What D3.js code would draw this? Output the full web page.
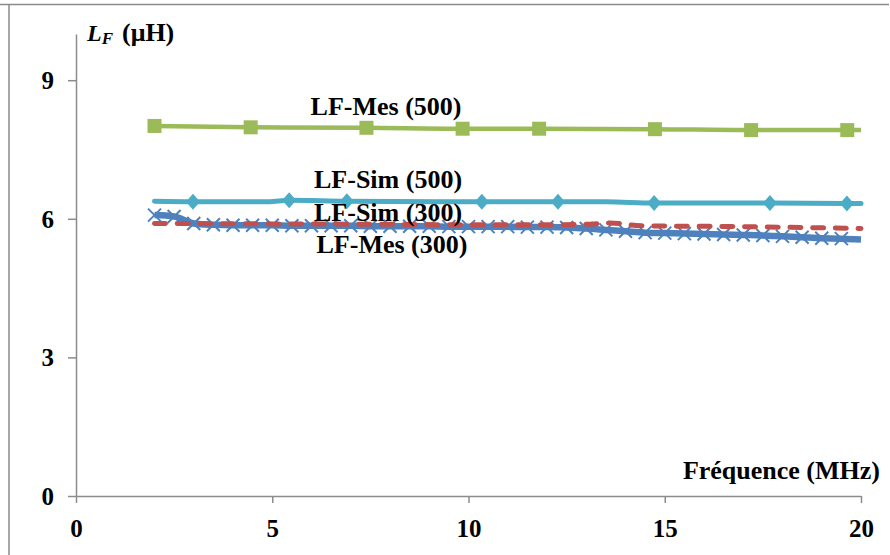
<!DOCTYPE html>
<html>
<head>
<meta charset="utf-8">
<script src="https://cdn.jsdelivr.net/npm/d3@7/dist/d3.min.js"></script>
<style>
  html, body { margin: 0; padding: 0; background: #fff; }
  svg { display: block; }
  text { font-family: "Liberation Serif", "Times New Roman", serif; font-weight: bold; fill: #000; }
</style>
</head>
<body>
<svg id="chart" width="890" height="555"></svg>
<script>
// ---- Data ----
const xTicks = [0, 5, 10, 15, 20];
const yTicks = [0, 3, 6, 9];
const xTitle = "Fréquence (MHz)";

// LF-Mes (500): green, square markers
const mes500LineX = [2, 4.45, 7.4, 9.85, 11.8, 14.75, 17.2, 19.65, 20];
const mes500LineY = [8.01, 7.98, 7.97, 7.95, 7.95, 7.94, 7.92, 7.92, 7.92];
const mes500MarkX = [2, 4.45, 7.4, 9.85, 11.8, 14.75, 17.2, 19.65];
const mes500MarkY = [8.01, 7.98, 7.97, 7.95, 7.95, 7.94, 7.92, 7.92];

// LF-Sim (500): cyan, diamond markers
const sim500LineX = [2, 2.98, 4.9, 5.43, 6.9, 10.34, 12.28, 13.5, 14.73, 17.68, 19.64, 20];
const sim500LineY = [6.38, 6.37, 6.37, 6.40, 6.38, 6.37, 6.37, 6.37, 6.34, 6.34, 6.33, 6.33];
const sim500MarkX = [2.98, 5.43, 6.9, 10.34, 12.28, 14.73, 17.68, 19.64];
const sim500MarkY = [6.37, 6.40, 6.38, 6.37, 6.37, 6.34, 6.34, 6.33];

// LF-Sim (300): red dashed line
const sim300X = [2, 5, 8, 10, 12, 13.0, 13.6, 14.4, 17, 20];
const sim300Y = [5.90, 5.89, 5.88, 5.87, 5.87, 5.88, 5.91, 5.85, 5.83, 5.79];

// LF-Mes (300): blue thick line with X markers
const mes300MarkX = [2, 2.5, 3, 3.5, 4, 4.5, 5, 5.5, 6, 6.5, 7, 7.5, 8, 8.5, 9, 9.5, 10, 10.5,
                     11, 11.5, 12, 12.5, 13, 13.5, 14, 14.5, 15, 15.5, 16, 16.5, 17, 17.5, 18, 18.5, 19, 19.5];
const mes300MarkY = [6.08, 6.05, 5.90, 5.87, 5.86, 5.86, 5.86, 5.85, 5.85, 5.85, 5.85, 5.84, 5.84, 5.84, 5.84, 5.83, 5.83, 5.83,
                     5.83, 5.82, 5.82, 5.81, 5.79, 5.76, 5.73, 5.70, 5.69, 5.68, 5.67, 5.66, 5.65, 5.64, 5.62, 5.60, 5.58, 5.57];
const mes300EndX = [20];
const mes300EndY = [5.55];

const seriesLabels = ["LF-Mes (500)", "LF-Sim (500)", "LF-Sim (300)", "LF-Mes (300)"];
const labelAtX = [7.9, 7.95, 7.95, 8.05];
const labelAtY = [8.25, 6.67, 5.95, 5.26];

// ---- Layout ----
const svg = d3.select("#chart");
const x = d3.scaleLinear().domain([0, 20]).range([76, 861]);
const y = d3.scaleLinear().domain([0, 10]).range([496, 34]);
const axisColor = "#8c8c8c";

// outer frame (top + left)
svg.append("line").attr("x1", 0).attr("x2", 889).attr("y1", 4.5).attr("y2", 4.5)
  .attr("stroke", "#8a8a8a").attr("stroke-width", 1.5);
svg.append("line").attr("x1", 9).attr("x2", 9).attr("y1", 4).attr("y2", 555)
  .attr("stroke", "#8a8a8a").attr("stroke-width", 1.5);

// axes
const xAxis = d3.axisBottom(x).tickValues(xTicks).tickSize(7).tickSizeOuter(0).tickFormat(d3.format("d"));
const gx = svg.append("g").attr("transform", `translate(0,${y(0)})`).call(xAxis);
gx.select(".domain").attr("stroke", axisColor).attr("stroke-width", 1.5);
gx.selectAll(".tick line").attr("stroke", axisColor).attr("stroke-width", 1.5);
gx.selectAll(".tick text").attr("font-size", 25).attr("dy", null).attr("y", 41)
  .style("font-family", "'Liberation Serif', serif").style("font-weight", "bold").attr("fill", "#000");

const yAxis = d3.axisLeft(y).tickValues(yTicks).tickSize(8).tickSizeOuter(0).tickFormat(d3.format("d"));
const gy = svg.append("g").attr("transform", `translate(${x(0)},0)`).call(yAxis);
gy.select(".domain").attr("stroke", axisColor).attr("stroke-width", 1.5);
gy.selectAll(".tick line").attr("stroke", axisColor).attr("stroke-width", 1.5);
gy.selectAll(".tick text").attr("font-size", 25).attr("x", -22).attr("dy", "0.34em")
  .attr("text-anchor", "end")
  .style("font-family", "'Liberation Serif', serif").style("font-weight", "bold").attr("fill", "#000");

// axis titles
const yt = svg.append("text").attr("x", 87).attr("y", 41).attr("font-size", 24);
yt.append("tspan").attr("font-style", "italic").text("L");
yt.append("tspan").attr("font-style", "italic").attr("font-size", 17).attr("dy", 3).text("F");
svg.append("text").attr("x", 122).attr("y", 41).attr("font-size", 26).text("(μH)");

svg.append("text").attr("x", 880).attr("y", 479).attr("text-anchor", "end")
  .attr("font-size", 26).text(xTitle);

// ---- Series ----
const zip = (xs, ys) => xs.map((v, i) => [v, ys[i]]);
const line = d3.line().x(d => x(d[0])).y(d => y(d[1]));

// LF-Mes (300) blue
const blue = "#4F81BD";
svg.append("path").datum(zip(mes300MarkX.concat(mes300EndX), mes300MarkY.concat(mes300EndY)))
  .attr("d", line.curve(d3.curveMonotoneX)).attr("fill", "none").attr("stroke", blue)
  .attr("stroke-width", 6.5).attr("stroke-linejoin", "round");
const xs = 6.5;
svg.append("g").selectAll("path").data(zip(mes300MarkX, mes300MarkY)).join("path")
  .attr("d", d => {
    const cx = x(d[0]), cy = y(d[1]);
    return `M${cx - xs},${cy - xs}L${cx + xs},${cy + xs}M${cx - xs},${cy + xs}L${cx + xs},${cy - xs}`;
  })
  .attr("stroke", blue).attr("stroke-width", 2).attr("fill", "none");

// LF-Sim (300) red dashed
svg.append("path").datum(zip(sim300X, sim300Y))
  .attr("d", line.curve(d3.curveMonotoneX)).attr("fill", "none").attr("stroke", "#C0504D")
  .attr("stroke-width", 5).attr("stroke-linecap", "round").attr("stroke-dasharray", "11,11.7");

// LF-Sim (500) cyan
const cyan = "#4BACC6";
svg.append("path").datum(zip(sim500LineX, sim500LineY))
  .attr("d", line.curve(d3.curveMonotoneX)).attr("fill", "none").attr("stroke", cyan)
  .attr("stroke-width", 5).attr("stroke-linecap", "round");
svg.append("g").selectAll("path").data(zip(sim500MarkX, sim500MarkY)).join("path")
  .attr("d", d => {
    const cx = x(d[0]), cy = y(d[1]);
    return `M${cx},${cy - 8}L${cx + 7},${cy}L${cx},${cy + 8}L${cx - 7},${cy}Z`;
  })
  .attr("fill", cyan);

// LF-Mes (500) green
const green = "#9BBB59";
svg.append("path").datum(zip(mes500LineX, mes500LineY))
  .attr("d", line.curve(d3.curveMonotoneX)).attr("fill", "none").attr("stroke", green)
  .attr("stroke-width", 4.5);
svg.append("g").selectAll("rect").data(zip(mes500MarkX, mes500MarkY)).join("rect")
  .attr("x", d => x(d[0]) - 7).attr("y", d => y(d[1]) - 7)
  .attr("width", 14).attr("height", 14).attr("fill", green);

// series labels
svg.append("g").selectAll("text").data(seriesLabels).join("text")
  .attr("x", (d, i) => x(labelAtX[i])).attr("y", (d, i) => y(labelAtY[i]))
  .attr("text-anchor", "middle").attr("font-size", 26).text(d => d);
</script>
</body>
</html>
